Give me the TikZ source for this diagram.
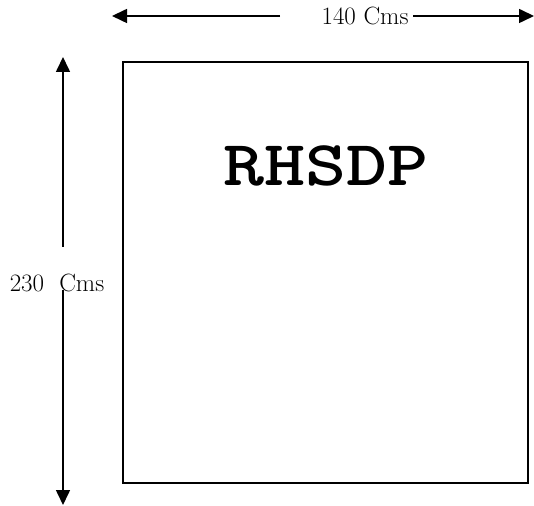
\documentclass[tikz,border=0pt]{standalone}
\usepackage{fontspec}
\usetikzlibrary{arrows.meta}
\begin{document}
\begin{tikzpicture}[x=1pt,y=1pt,
  lin/.style={line width=1.6pt},
  arr/.style={lin,-{Triangle[length=15pt,width=14pt]}},
  lbl/.style={font=\fontsize{25}{28}\selectfont, inner sep=0pt}]
\useasboundingbox (0,0) rectangle (534,505);
\node[draw, lin, minimum width=405pt, minimum height=421pt, inner sep=0pt] (box) at (325.5,232.5) {};
\node[font=\ttfamily\bfseries\fontsize{64}{68}\selectfont, inner sep=0pt, xscale=1.22] (title) at (326,339) {RHSDP};
% horizontal dimension
\node[lbl] (w) at (365,489) {140 Cms};
\coordinate (wl) at (280,489);
\coordinate (wr) at (413,489);
\coordinate (wlt) at (112,489);
\coordinate (wrt) at (534,489);
\draw[arr] (wl) -- (wlt);
\draw[arr] (wr) -- (wrt);
% vertical dimension
\node[lbl] (h) at (57,222) {230\ \ Cms};
\coordinate (ht) at (63,258);
\coordinate (hb) at (63,215);
\coordinate (htt) at (63,448);
\coordinate (hbt) at (63,0);
\draw[arr] (ht) -- (htt);
\draw[arr] (hb) -- (hbt);
\end{tikzpicture}
\end{document}
